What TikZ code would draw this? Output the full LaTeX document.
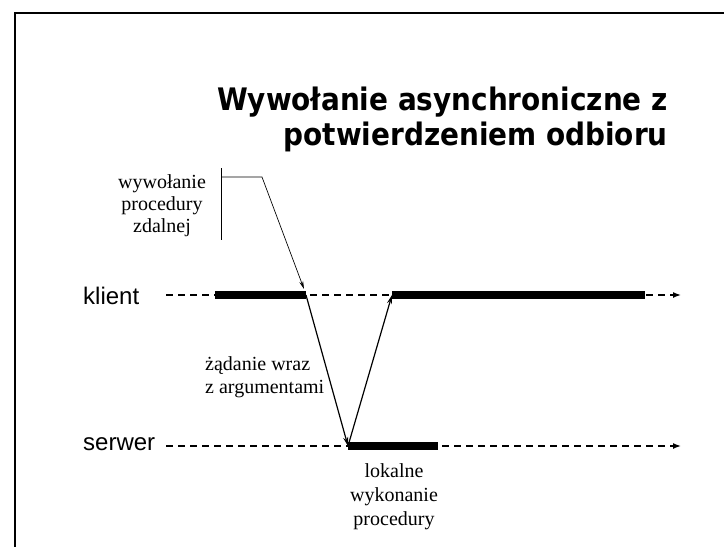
\documentclass[tikz,border=0pt]{standalone}
\usepackage{fontspec}
\setmainfont{Liberation Serif}
\setsansfont{Liberation Sans}
\newfontfamily\titlefont{DejaVu Sans Condensed}[BoldFont={DejaVu Sans Condensed Bold}]
\usetikzlibrary{arrows.meta,positioning}

\tikzset{
  lifeline/.style={line width=1.4pt, dash pattern=on 7pt off 5pt, -{Latex[length=8pt,width=6pt]}},
  busy/.style={line width=8pt},
  msg/.style={line width=1.2pt, -{Stealth[length=9pt,width=5pt]}},
  pointer/.style={line width=0.7pt, -{Stealth[length=8pt,width=4pt]}},
  note/.style={font=\fontsize{20}{22}\selectfont, align=center, inner sep=0pt},
  actor/.style={font=\sffamily\fontsize{24}{28}\selectfont, inner sep=0pt},
  headline/.style={font=\titlefont\bfseries\fontsize{31}{35}\selectfont, inner sep=0pt, anchor=base east}
}

\begin{document}
\begin{tikzpicture}[x=1pt,y=-1pt]
  \useasboundingbox (0,0) rectangle (724,547);

  % frame of the slide
  \draw[line width=2.7pt] (15,547) -- (15,13) -- (724,13);

  %--- Title ---
  \node[headline] (title1) at (668,110) {Wywołanie asynchroniczne z};
  \node[headline] (title2) at (668,145) {potwierdzeniem odbioru};

  %--- Actors ---
  \node[actor, anchor=west] (klient) at (83,296) {klient};
  \node[actor, anchor=west] (serwer) at (83,444) {serwer};

  % points on the time lines
  \coordinate (kstart) at (166,295);
  \coordinate (kbusy) at (215,295);
  \coordinate (kcall) at (306,295);
  \coordinate (kback) at (392,295);
  \coordinate (kstop) at (645,295);
  \coordinate (kend) at (681,295);
  \coordinate (sstart) at (166,446);
  \coordinate (srecv) at (348,446);
  \coordinate (sdone) at (438,446);
  \coordinate (send) at (681,446);

  %--- Time lines ---
  \draw[lifeline] (kstart) -- (kend);
  \draw[lifeline] (sstart) -- (send);

  % busy periods
  \draw[busy] (kbusy) -- (kcall);
  \draw[busy] (kback) -- (kstop);
  \draw[busy] (srecv) -- (sdone);

  %--- Messages ---
  \draw[msg] (kcall) -- (srecv);
  \draw[msg] (srecv) -- (kback);

  %--- Notes ---
  \node[note] (call) at (162,206) {wywołanie\\procedury\\zdalnej};
  \coordinate (brtop) at (221,168);
  \coordinate (brbot) at (221,240);
  \coordinate (brmid) at (221,177);
  \coordinate (brknee) at (262,177);
  \coordinate (brtip) at (304,289);
  \draw[line width=0.7pt] (brtop) -- (brbot);
  \draw[pointer] (brmid) -- (brknee) -- (brtip);

  \node[note, font=\fontsize{20}{23}\selectfont, align=left, anchor=west] (req) at (205,377) {żądanie wraz\\z argumentami};

  \node[note, font=\fontsize{20}{24}\selectfont] (local) at (394,497) {lokalne\\wykonanie\\procedury};
\end{tikzpicture}
\end{document}
